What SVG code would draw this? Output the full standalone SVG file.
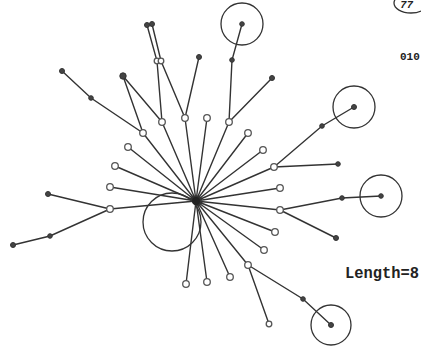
<svg xmlns="http://www.w3.org/2000/svg" width="421" height="350" viewBox="0 0 421 350">
<style>
.e{stroke:#333;stroke-width:1.4;fill:none;stroke-linecap:round}
.o{fill:#fff;stroke:#555;stroke-width:1.3}
.f{fill:#444;stroke:#333;stroke-width:1}
.b{fill:none;stroke:#333;stroke-width:1.3}
.t{font-family:"Liberation Mono",monospace;font-weight:bold;fill:#222}
</style>
<rect width="421" height="350" fill="#fff"/>
<g id="connectors">
<path class="e" d="M196 201L162 122M196 201L185 118M196 201L207 118M196 201L229 122M196 201L248 133M196 201L263 150M196 201L274 167M196 201L280 188M196 201L280 210M196 201L275 232M196 201L264 250M196 201L248 265M196 201L230 277M196 201L207 282M196 201L186 284M196 201L110 209M196 201L110 187M196 201L115 166M196 201L128 147M196 201L143 133"/>
<path class="e" d="M143 133L123 76L162 122M143 133L91 98L62 71M162 122L157 61L147 25M185 118L161 61L152 24M185 118L199 57M229 122L232 60L242 24M229 122L272 78M274 167L322 126L354 107M274 167L338 164M280 210L342 198L381 196M280 210L336 238M248 265L269 324M248 265L303 299L331 325M110 209L48 194M110 209L50 236L13 245"/>
<circle class="b" cx="172" cy="222" r="29"/>
</g>
<g id="rings">
<circle class="b" cx="242" cy="24" r="21"/>
<circle class="b" cx="354" cy="107" r="21"/>
<circle class="b" cx="381" cy="196" r="21"/>
<circle class="b" cx="331" cy="325" r="20"/>
</g>
<g id="center"><circle cx="196" cy="201" r="4" fill="#222"/></g>
<g id="level1">
<circle class="o" cx="162" cy="122" r="3.3"/><circle class="o" cx="185" cy="118" r="3.3"/><circle class="o" cx="207" cy="118" r="3.3"/><circle class="o" cx="229" cy="122" r="3.3"/><circle class="o" cx="248" cy="133" r="3.3"/><circle class="o" cx="263" cy="150" r="3.3"/><circle class="o" cx="274" cy="167" r="3.3"/><circle class="o" cx="280" cy="188" r="3.3"/><circle class="o" cx="280" cy="210" r="3.3"/><circle class="o" cx="275" cy="232" r="3.3"/><circle class="o" cx="264" cy="250" r="3.3"/><circle class="o" cx="248" cy="265" r="3.3"/><circle class="o" cx="230" cy="277" r="3.3"/><circle class="o" cx="207" cy="282" r="3.3"/><circle class="o" cx="186" cy="284" r="3.3"/><circle class="o" cx="110" cy="209" r="3.3"/><circle class="o" cx="110" cy="187" r="3.3"/><circle class="o" cx="115" cy="166" r="3.3"/><circle class="o" cx="128" cy="147" r="3.3"/><circle class="o" cx="143" cy="133" r="3.3"/>
</g>
<g id="level2">
<circle class="f" cx="123" cy="76" r="3.2"/><circle class="f" cx="91" cy="98" r="2.3"/><circle class="f" cx="62" cy="71" r="2.5"/>
<circle class="o" cx="157" cy="61" r="2.8"/><circle class="o" cx="161" cy="61" r="2.8"/><circle class="f" cx="147" cy="25" r="2.5"/><circle class="f" cx="152" cy="24" r="2.5"/>
<circle class="f" cx="199" cy="57" r="2.5"/><circle class="f" cx="232" cy="60" r="2.3"/><circle class="f" cx="242" cy="24" r="2.3"/><circle class="f" cx="272" cy="78" r="2.5"/>
<circle class="f" cx="322" cy="126" r="2.3"/><circle class="f" cx="354" cy="107" r="2.5"/><circle class="f" cx="338" cy="164" r="2.3"/>
<circle class="f" cx="342" cy="198" r="2.3"/><circle class="f" cx="381" cy="196" r="2.3"/><circle class="f" cx="336" cy="238" r="2.5"/>
<circle class="o" cx="269" cy="324" r="2.8"/><circle class="f" cx="303" cy="299" r="2.3"/><circle class="f" cx="331" cy="325" r="2.5"/>
<circle class="f" cx="48" cy="194" r="2.5"/><circle class="f" cx="50" cy="236" r="2.3"/><circle class="f" cx="13" cy="245" r="2.5"/>
</g>
<g id="labels">
<ellipse cx="411" cy="3" rx="17" ry="10" class="b"/>
<text class="t" x="400" y="8" font-size="11" font-style="italic">77</text>
<text class="t" x="400" y="60" font-size="11" font-weight="normal">010</text>
<text class="t" x="345" y="278" font-size="16" textLength="74" lengthAdjust="spacingAndGlyphs">Length=8</text>
</g>
</svg>
